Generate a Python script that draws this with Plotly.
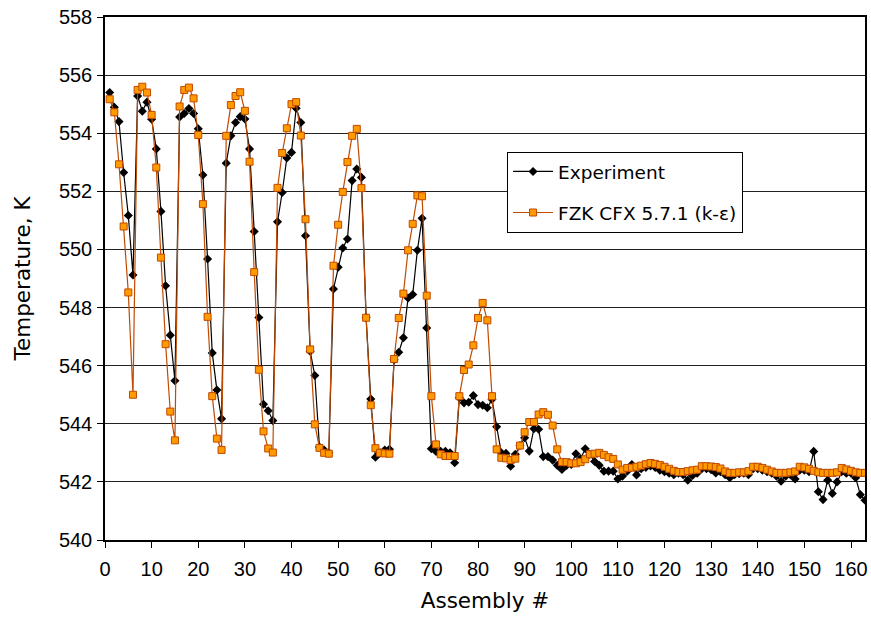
import plotly.graph_objects as go

assembly = list(range(1, 164))

experiment = [
    555.40, 554.89, 554.40, 552.65, 551.17, 549.12, 555.28, 554.76, 555.07, 554.48,
    553.46, 551.31, 548.75, 547.05, 545.48, 554.56, 554.68, 554.85, 554.68, 554.15,
    552.56, 549.67, 546.44, 545.16, 544.17, 552.97, 553.91, 554.37, 554.57, 554.49,
    553.46, 550.62, 547.66, 544.67, 544.45, 544.11, 550.95, 551.96, 553.15, 553.34,
    554.86, 554.37, 550.47, 546.50, 545.66, 543.20, 543.10, 543.00, 548.64, 549.39,
    550.05, 550.36, 552.37, 552.77, 552.48, 547.66, 544.85, 542.85, 543.00, 543.10,
    543.12, 546.20, 546.46, 546.96, 548.33, 548.45, 549.97, 551.07, 547.30, 543.14,
    543.05, 543.05, 543.05, 543.00, 542.66, 544.90, 544.72, 544.74, 544.97, 544.66,
    544.64, 544.55, 544.84, 543.90, 543.00, 542.98, 542.54, 542.95, 543.25, 543.52,
    543.06, 543.83, 543.81, 542.87, 542.87, 542.75, 542.57, 542.43, 542.57, 542.60,
    542.97, 542.80, 543.14, 542.95, 542.70, 542.57, 542.37, 542.37, 542.37, 542.10,
    542.20, 542.37, 542.60, 542.24, 542.45, 542.50, 542.55, 542.50, 542.40, 542.35,
    542.30, 542.25, 542.30, 542.25, 542.06, 542.22, 542.30, 542.45, 542.45, 542.42,
    542.31, 542.35, 542.25, 542.14, 542.25, 542.28, 542.30, 542.25, 542.45, 542.45,
    542.40, 542.35, 542.30, 542.20, 542.02, 542.20, 542.25, 542.10, 542.40, 542.40,
    542.35, 543.05, 541.66, 541.39, 542.06, 541.60, 542.00, 542.35, 542.30, 542.30,
    542.14, 541.56, 541.37,
]

cfx = [
    555.17, 554.72, 552.93, 550.79, 548.52, 545.00, 555.49, 555.60, 555.40, 554.63,
    552.82, 549.72, 546.74, 544.42, 543.43, 554.92, 555.49, 555.57, 555.20, 553.94,
    551.56, 547.68, 544.95, 543.49, 543.10, 553.91, 554.97, 555.28, 555.41, 554.77,
    553.02, 549.22, 545.86, 543.74, 543.15, 543.01, 552.12, 553.32, 554.17, 555.00,
    555.07, 553.92, 551.04, 546.56, 543.98, 543.17, 543.00, 542.97, 549.44, 550.85,
    551.98, 553.01, 553.91, 554.15, 552.11, 547.65, 544.64, 543.16, 543.00, 542.98,
    542.97, 546.23, 547.64, 548.48, 549.97, 550.88, 551.86, 551.83, 548.41, 544.95,
    543.29, 542.95, 542.89, 542.89, 542.89, 544.95, 545.85, 546.04, 546.70, 547.64,
    548.16, 547.56, 544.95, 543.12, 542.83, 542.81, 542.75, 542.80, 543.25, 543.71,
    544.06, 544.06, 544.32, 544.40, 544.31, 543.94, 543.12, 542.68, 542.68, 542.64,
    542.64, 542.68, 542.78, 542.95, 542.97, 543.00, 542.93, 542.85, 542.79, 542.60,
    542.42, 542.48, 542.49, 542.52, 542.56, 542.61, 542.65, 542.62, 542.58, 542.52,
    542.45, 542.38, 542.34, 542.34, 542.37, 542.40, 542.42, 542.54, 542.54, 542.53,
    542.51, 542.46, 542.36, 542.31, 542.31, 542.33, 542.33, 542.37, 542.52, 542.52,
    542.48, 542.42, 542.36, 542.31, 542.31, 542.31, 542.33, 542.36, 542.52, 542.50,
    542.45, 542.38, 542.33, 542.31, 542.31, 542.31, 542.33, 542.48, 542.43, 542.38,
    542.33, 542.31, 542.31,
]

x_ticks = list(range(0, 161, 10))
y_ticks = list(range(540, 559, 2))

TICK_FONT = "Liberation Sans, Arial, sans-serif"
TEXT_FONT = "DejaVu Sans, Verdana, sans-serif"

fig = go.Figure()
fig.add_trace(go.Scatter(
    x=assembly, y=experiment, mode="lines+markers", name="Experiment",
    line=dict(color="black", width=1.2),
    marker=dict(symbol="diamond", size=7, color="black"),
    legendgroup="a",
))
fig.add_trace(go.Scatter(
    x=assembly, y=cfx, mode="lines+markers", name="FZK CFX 5.7.1 (k-ε)",
    line=dict(color="#C04A00", width=1.2),
    marker=dict(symbol="square", size=7, color="#FF9A00",
                line=dict(color="#C04A00", width=1)),
    legendgroup="b",
))

fig.update_layout(
    width=871, height=621,
    margin=dict(l=105, r=6, t=17, b=81),
    paper_bgcolor="white", plot_bgcolor="white",
    font=dict(family=TICK_FONT, size=20, color="black"),
    showlegend=True,
    legend=dict(
        x=0.529, y=0.742, xanchor="left", yanchor="top",
        bgcolor="white", bordercolor="black", borderwidth=1,
        font=dict(family=TEXT_FONT, size=18.5, color="black"),
        tracegroupgap=14, traceorder="grouped",
        itemwidth=40,
    ),
    xaxis=dict(
        range=[0, 163], tickvals=x_ticks, ticks="outside", ticklen=6,
        tickcolor="black", showline=True, linecolor="black", linewidth=1.5,
        mirror=True, showgrid=False, zeroline=False, automargin=False,
        tickfont=dict(family=TICK_FONT, size=20), ticklabelstandoff=4,
        title=dict(text="Assembly #", font=dict(family=TEXT_FONT, size=21.5), standoff=14),
    ),
    yaxis=dict(
        range=[540, 558], tickvals=y_ticks, ticks="outside", ticklen=6,
        tickcolor="black", showline=True, linecolor="black", linewidth=1.5,
        mirror=True, showgrid=True, gridcolor="#222222", gridwidth=1,
        zeroline=False, automargin=False,
        tickfont=dict(family=TICK_FONT, size=20), ticklabelstandoff=1,
        title=dict(text="Temperature, K", font=dict(family=TEXT_FONT, size=21.5), standoff=22),
    ),
)

fig.write_html("out.html")
